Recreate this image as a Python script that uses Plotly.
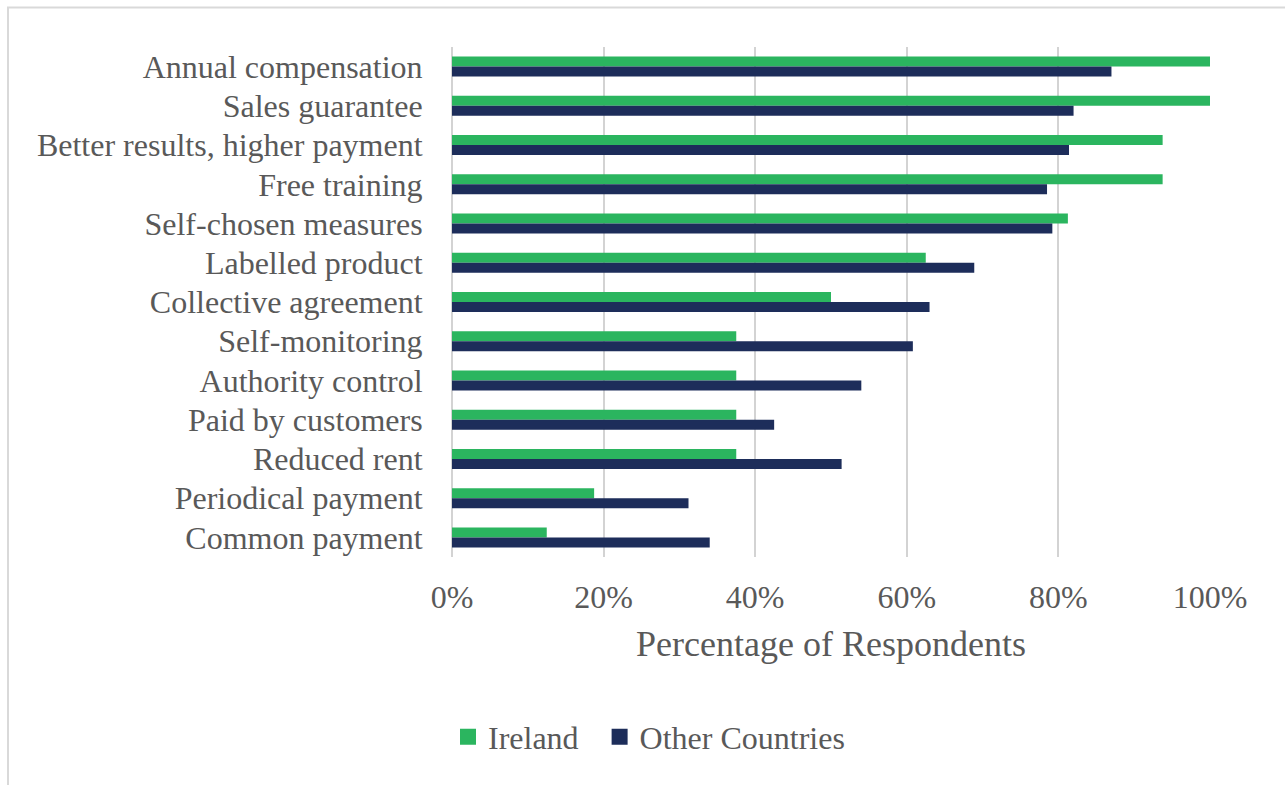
import plotly.graph_objects as go

categories = [
    "Annual compensation", "Sales guarantee", "Better results, higher payment",
    "Free training", "Self-chosen measures", "Labelled product",
    "Collective agreement", "Self-monitoring", "Authority control",
    "Paid by customers", "Reduced rent", "Periodical payment", "Common payment",
]
ireland = [1.00, 1.00, 0.9375, 0.9375, 0.8125, 0.625, 0.50, 0.375, 0.375, 0.375, 0.375, 0.1875, 0.125]
other = [0.87, 0.82, 0.814, 0.785, 0.792, 0.689, 0.63, 0.608, 0.54, 0.425, 0.514, 0.312, 0.34]

tick_vals = [0, 0.2, 0.4, 0.6, 0.8, 1.0]
tick_text = ["0%", "20%", "40%", "60%", "80%", "100%"]

GREEN = "#2BB55F"
NAVY = "#1D2D5A"
TXT = "#595959"
FONT = "Liberation Serif"

fig = go.Figure()
fig.add_trace(go.Bar(y=categories, x=ireland, name="Ireland", orientation="h",
                     marker=dict(color=GREEN, line=dict(width=0)), showlegend=False))
fig.add_trace(go.Bar(y=categories, x=other, name="Other Countries", orientation="h",
                     marker=dict(color=NAVY, line=dict(width=0)), showlegend=False))
# legend entries with larger square swatches
for nm, col in [("Ireland\u00a0\u00a0", GREEN), ("Other Countries", NAVY)]:
    fig.add_trace(go.Scatter(x=[None], y=[None], mode="markers", name=nm,
                             marker=dict(symbol="square", size=16, color=col, line=dict(width=0)),
                             showlegend=True, hoverinfo="skip"))

L, R, T, B = 452, 75, 47, 228
W, H = 1285, 785
pw, ph = W - L - R, H - T - B

def px2x(px):
    return (px - L) / pw

def py2y(py):
    return (H - B - py) / ph

fig.update_layout(
    width=W, height=H,
    margin=dict(l=L, r=R, t=T, b=B),
    paper_bgcolor="white", plot_bgcolor="white",
    barmode="group", bargap=0.49, bargroupgap=0,
    font=dict(family=FONT, color=TXT, size=32),
    showlegend=True,
    legend=dict(orientation="h", x=px2x(649), y=py2y(737), xanchor="center", yanchor="middle",
                font=dict(family=FONT, size=32, color=TXT), itemwidth=30,
                itemsizing="trace", traceorder="normal"),
    shapes=[dict(type="rect", xref="paper", yref="paper",
                 x0=px2x(8), x1=px2x(1300), y0=py2y(800), y1=py2y(7.5),
                 line=dict(color="#D9D9D9", width=2), fillcolor="rgba(0,0,0,0)", layer="below")],
)
fig.update_xaxes(range=[0, 1.0], tickvals=tick_vals, ticktext=tick_text,
                 showgrid=True, gridcolor="#D3D3D3", gridwidth=2,
                 zeroline=True, zerolinecolor="#D3D3D3", zerolinewidth=2,
                 showline=False, ticks="outside", ticklen=12, tickcolor="rgba(0,0,0,0)",
                 tickfont=dict(family=FONT, size=32, color=TXT),
                 title=dict(text="Percentage of Respondents", standoff=16,
                            font=dict(family=FONT, size=36, color=TXT)))
fig.update_yaxes(autorange="reversed", showgrid=False, showline=False, zeroline=False,
                 ticks="outside", ticklen=22, tickcolor="rgba(0,0,0,0)",
                 tickfont=dict(family=FONT, size=32, color=TXT))

fig.write_html("out.html")
